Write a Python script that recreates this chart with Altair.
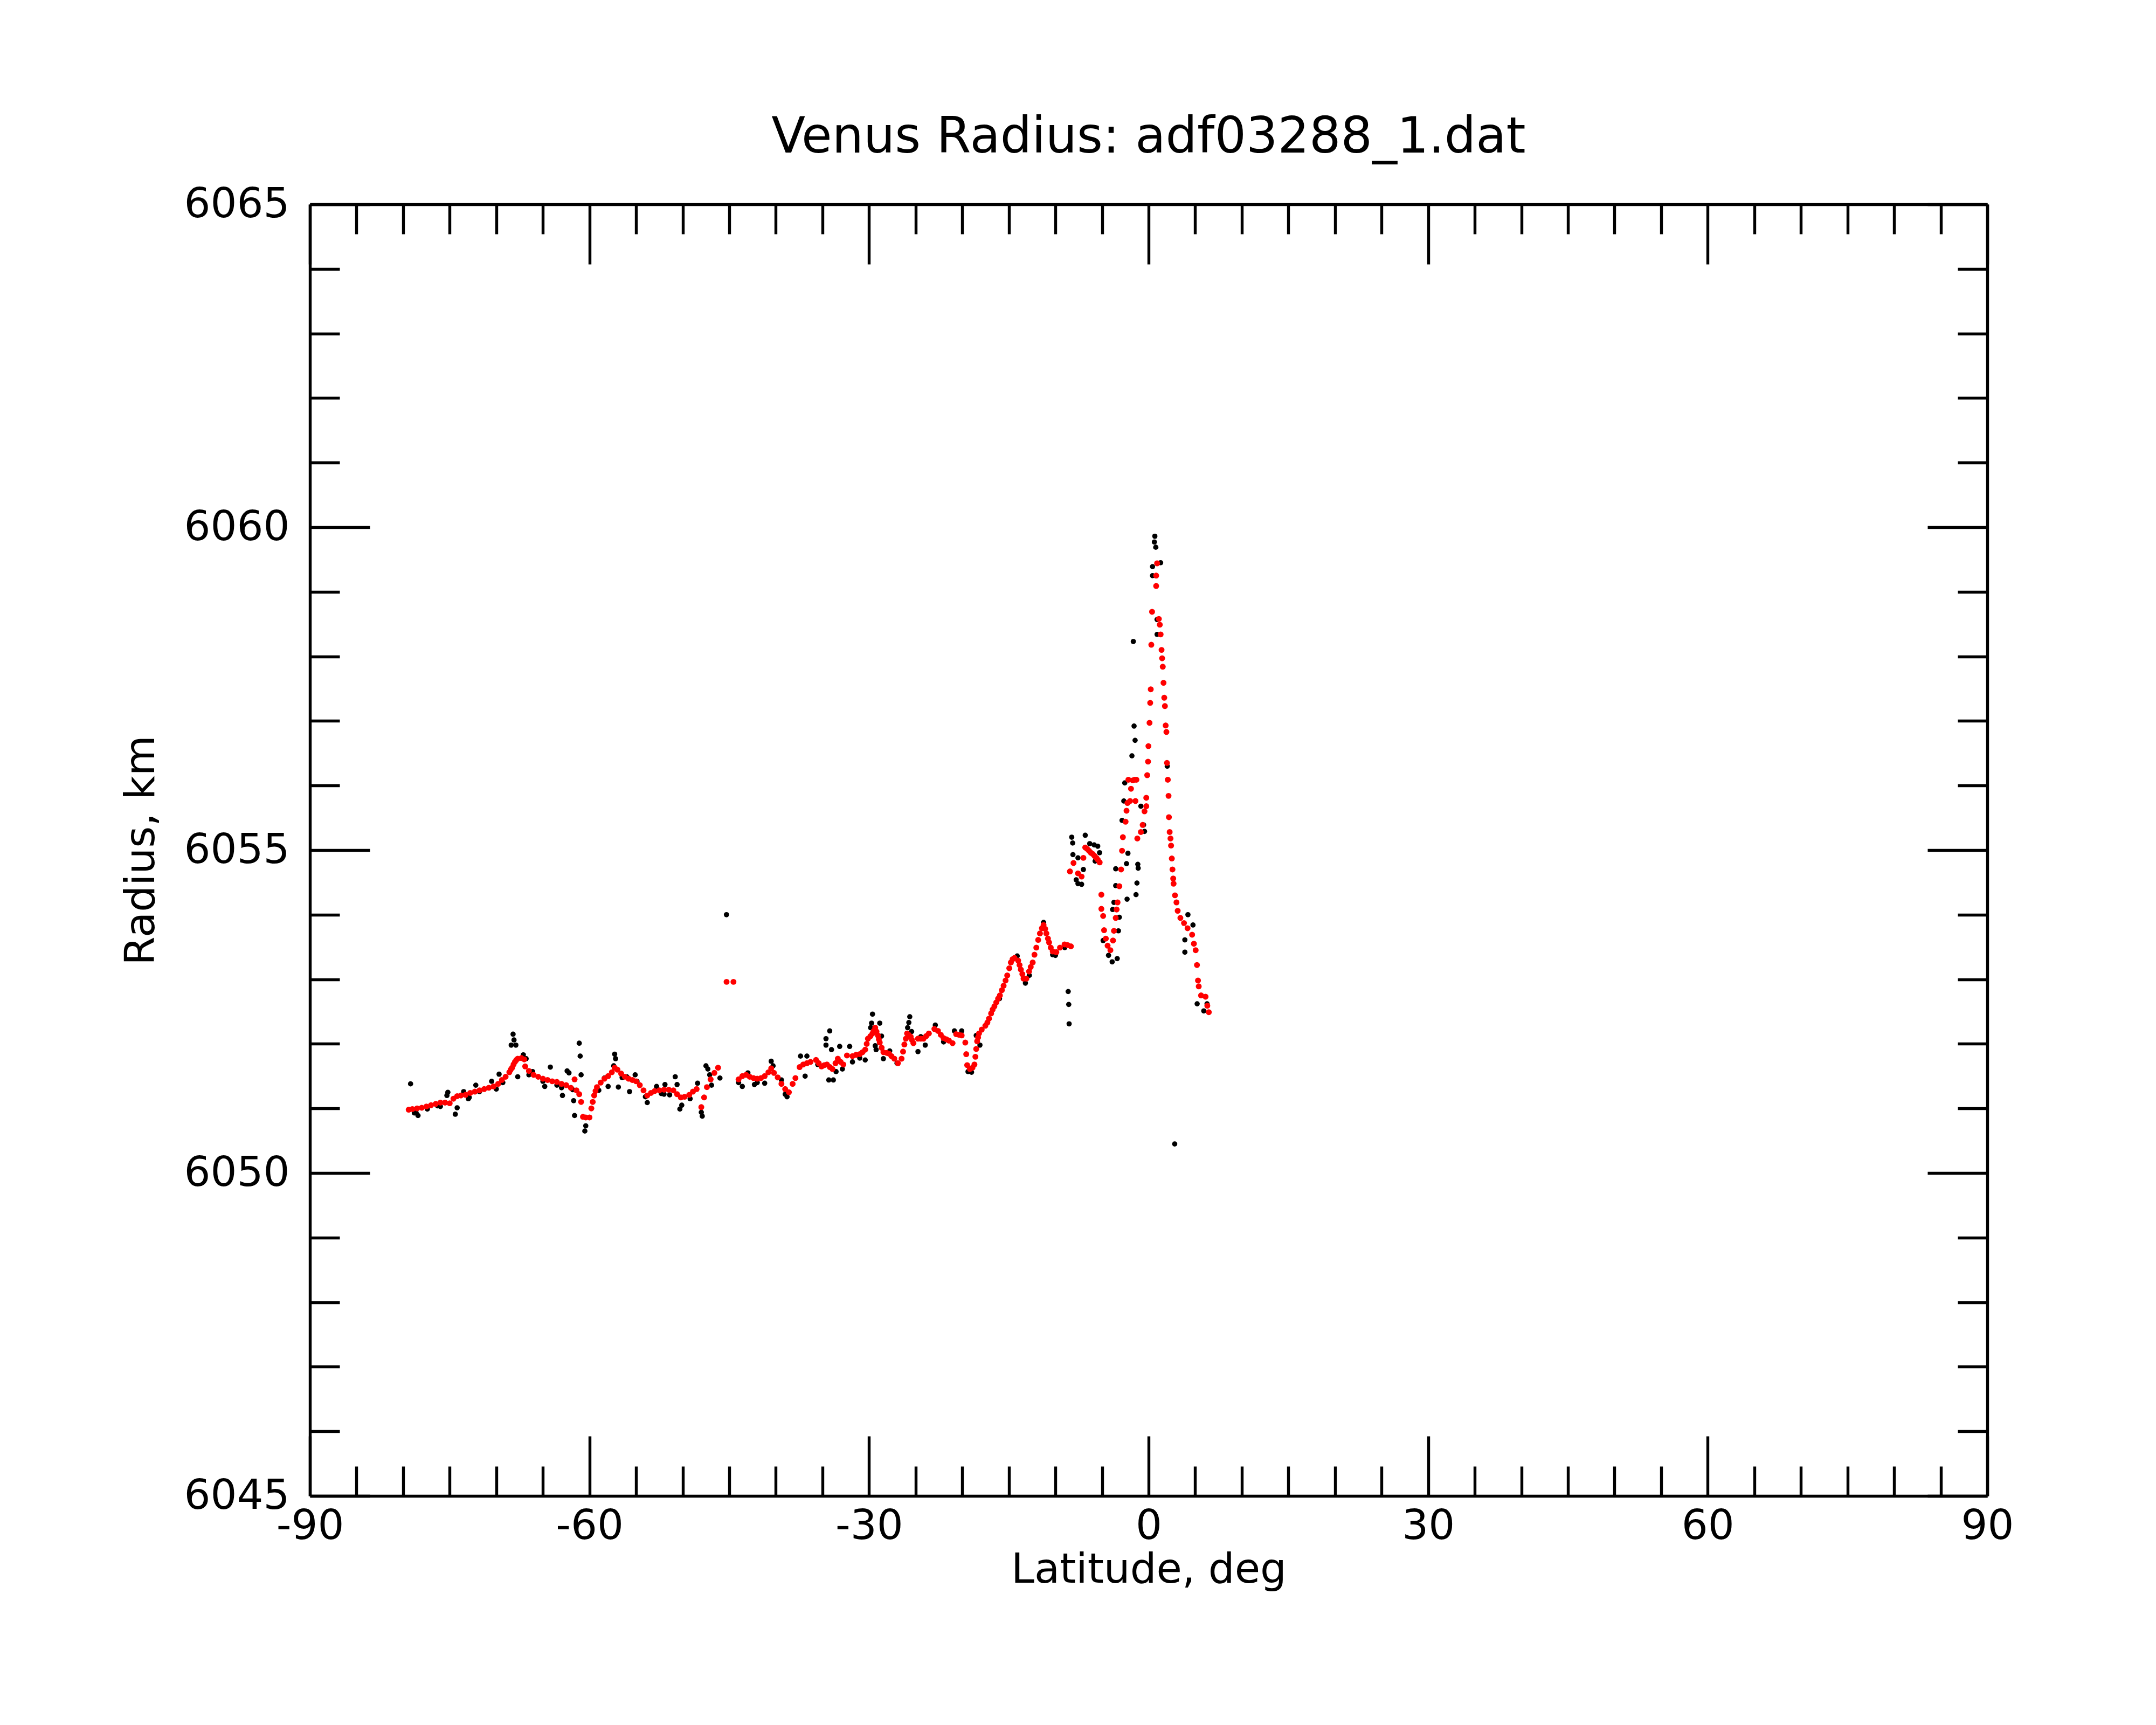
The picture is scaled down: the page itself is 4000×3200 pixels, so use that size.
import altair as alt
import pandas as pd

# ---------------- data ----------------
red_lat = [
    -79.4, -79.0, -78.5, -78.0, -77.5, -77.0, -76.5, -76.0, -75.5, -75.0,
    -74.6, -74.2, -73.8, -73.3, -72.8, -72.3, -71.8, -71.3, -70.8, -70.3,
    -69.8, -69.4, -69.0, -68.6, -68.45, -68.3, -68.15, -68.0, -67.85, -67.7,
    -67.3, -67.0, -66.9, -66.5, -66.0, -65.5, -65.0, -64.5, -64.0, -63.5,
    -63.0, -62.5, -62.0, -61.6, -61.4, -61.1, -60.9, -60.7, -60.4, -60.0,
    -59.8, -59.65, -59.5, -59.35, -59.2, -58.8, -58.4, -58.0, -57.6, -57.3,
    -57.0, -56.6, -56.2, -55.8, -55.4, -55.0, -54.6, -54.2, -53.8, -53.4,
    -53.0, -52.5, -52.0, -51.5, -51.0, -50.6, -50.2, -49.8, -49.3, -48.9,
    -48.5, -48.0, -47.7, -47.4, -47.0, -46.6, -46.2, -45.29, -44.55,
    -44.0, -43.6, -43.2, -42.8, -42.4, -42.0, -41.6, -41.2, -40.8, -40.5,
    -40.2, -39.8, -39.4, -39.0, -38.6, -38.2, -37.9, -37.45, -37.06, -36.67,
    -36.28, -35.69, -35.4, -35.1, -34.8, -34.52, -34.2, -33.93, -33.6, -33.35,
    -33.05, -32.76, -32.37, -31.78, -31.4, -31.0, -30.7, -30.41, -30.25, -30.12,
    -29.85, -29.63, -29.5, -29.34, -29.2, -29.05, -28.95, -28.85, -28.65, -28.46,
    -28.1, -27.87, -27.6, -27.29, -26.9, -26.51, -26.35, -26.21, -26.05, -25.92,
    -25.75, -25.53, -25.4, -25.24, -24.75, -24.45, -24.16, -23.87, -23.58, -22.99,
    -22.6, -22.3, -22.01, -21.7, -21.43, -21.04, -20.65, -20.35, -20.06, -19.67,
    -19.57, -19.47, -19.18, -18.9, -18.69, -18.59, -18.5, -18.4, -18.3, -18.2,
    -17.91, -17.52, -17.3, -17.13, -16.9, -16.74, -16.55, -16.35, -16.15, -15.96,
    -15.75, -15.56, -15.35, -15.17, -14.95, -14.78, -14.6, -14.39, -14.0, -13.85,
    -13.71, -13.55, -13.42, -13.12, -12.83, -12.65, -12.44, -12.25, -12.05, -11.85,
    -11.66, -11.45, -11.27, -11.1, -10.97, -10.8, -10.68, -10.5, -10.29, -9.9,
    -9.51, -9.02, -8.7, -8.34,
    -8.44, -8.06, -7.58, -7.19, -7.0, -6.8, -6.6, -6.4, -6.2, -6.0,
    -5.8, -5.6, -5.45, -5.25, -5.07, -5.07, -4.88, -4.78, -4.59, -4.4,
    -4.1, -3.82, -3.72, -3.53, -3.43, -3.33, -3.14, -2.95, -2.85, -2.76,
    -2.47, -2.37, -2.27, -2.17, -1.99, -1.89, -1.70, -1.5, -1.31, -1.41,
    -1.21, -0.83, -0.64, -0.44, -0.25, -0.25, -0.15, -0.06, -0.02, 0.10,
    0.17, 0.23, 0.29, 0.37, 0.81, 0.81, 0.91, 1.10, 1.20, 1.29,
    1.39, 1.45, 1.52, 1.60, 1.68, 1.75, 1.83, 1.91, 1.97, 2.06,
    2.14, 2.18, 2.26, 2.35, 2.41, 2.49, 2.56, 2.64, 2.68, 2.83,
    2.99, 3.12, 3.41, 3.80, 4.18, 4.67, 4.86, 5.05, 5.19, 5.30,
    5.38, 5.63, 6.11, 6.30, 6.46,
]
red_r = [
    6050.98, 6050.99, 6051.00, 6051.01, 6051.03, 6051.05, 6051.07, 6051.09, 6051.09, 6051.08,
    6051.15, 6051.19, 6051.20, 6051.21, 6051.24, 6051.26, 6051.28, 6051.30, 6051.32, 6051.34,
    6051.38, 6051.44, 6051.49, 6051.56, 6051.60, 6051.63, 6051.68, 6051.72, 6051.75, 6051.77,
    6051.78, 6051.76, 6051.65, 6051.58, 6051.52, 6051.49, 6051.46, 6051.44, 6051.42, 6051.41,
    6051.38, 6051.36, 6051.32, 6051.45, 6051.28, 6051.22, 6051.10, 6050.87, 6050.86, 6050.86,
    6051.00, 6051.10, 6051.20, 6051.27, 6051.33, 6051.40, 6051.46, 6051.50, 6051.56, 6051.63,
    6051.60, 6051.54, 6051.49, 6051.46, 6051.44, 6051.42, 6051.36, 6051.28, 6051.20, 6051.24,
    6051.27, 6051.28, 6051.29, 6051.29, 6051.28, 6051.22, 6051.17, 6051.18, 6051.21, 6051.26,
    6051.30, 6051.02, 6051.17, 6051.33, 6051.45, 6051.55, 6051.63, 6052.96, 6052.96,
    6051.45, 6051.50, 6051.52, 6051.49, 6051.47, 6051.46, 6051.47, 6051.50, 6051.56, 6051.62,
    6051.55, 6051.48, 6051.38, 6051.30, 6051.25, 6051.38, 6051.47, 6051.64, 6051.68, 6051.70,
    6051.72, 6051.75, 6051.70, 6051.65, 6051.67, 6051.68, 6051.64, 6051.61, 6051.70, 6051.77,
    6051.72, 6051.68, 6051.82, 6051.81, 6051.83, 6051.84, 6051.87, 6051.91, 6052.00, 6052.08,
    6052.12, 6052.16, 6052.20, 6052.25, 6052.19, 6052.13, 6052.07, 6052.02, 6051.94, 6051.87,
    6051.86, 6051.85, 6051.81, 6051.77, 6051.70, 6051.77, 6051.88, 6051.99, 6052.08, 6052.16,
    6052.14, 6052.11, 6052.06, 6052.01, 6052.08, 6052.08, 6052.08, 6052.12, 6052.16, 6052.23,
    6052.20, 6052.14, 6052.09, 6052.07, 6052.05, 6052.01, 6052.15, 6052.14, 6052.13, 6052.02,
    6051.84, 6051.67, 6051.61, 6051.63, 6051.68, 6051.80, 6051.92, 6052.04, 6052.10, 6052.16,
    6052.22, 6052.28, 6052.33, 6052.39, 6052.47, 6052.53, 6052.58, 6052.64, 6052.70, 6052.75,
    6052.83, 6052.90, 6052.98, 6053.06, 6053.17, 6053.26, 6053.31, 6053.33, 6053.29, 6053.22,
    6053.15, 6053.08, 6053.01, 6053.01, 6053.12, 6053.19, 6053.26, 6053.38, 6053.49, 6053.61,
    6053.71, 6053.79, 6053.84, 6053.78, 6053.71, 6053.63, 6053.57, 6053.49, 6053.43, 6053.42,
    6053.49, 6053.54, 6053.53, 6053.51,
    6054.67, 6054.80, 6054.64, 6054.59, 6054.88, 6055.04, 6055.02, 6054.99, 6054.96, 6054.94,
    6054.91, 6054.88, 6054.85, 6054.81, 6054.31, 6054.09, 6053.98, 6053.76, 6053.63, 6053.52,
    6053.45, 6053.60, 6053.75, 6053.95, 6054.08, 6054.19, 6054.44, 6054.70, 6054.99, 6055.20,
    6055.44, 6055.61, 6055.73, 6056.09, 6055.76, 6055.95, 6056.08, 6056.09, 6056.09, 6055.76,
    6055.18, 6055.28, 6055.39, 6055.60, 6055.68, 6055.81, 6056.16, 6056.37, 6056.61, 6056.97,
    6057.28, 6057.49, 6058.18, 6058.69, 6059.09, 6059.25, 6059.44, 6058.58, 6058.49, 6058.34,
    6058.10, 6057.97, 6057.84, 6057.59, 6057.36, 6057.23, 6056.93, 6056.83, 6056.35, 6056.09,
    6055.84, 6055.51, 6055.28, 6055.18, 6055.07, 6054.87, 6054.70, 6054.56, 6054.48, 6054.30,
    6054.19, 6054.06, 6053.95, 6053.87, 6053.79, 6053.69, 6053.55, 6053.45, 6053.22, 6052.98,
    6052.89, 6052.75, 6052.73, 6052.59, 6052.49,
]

black_lat = [
    -79.2, -78.8, -78.6, -78.4, -77.4, -76.3, -76.0, -75.3, -75.2, -74.2,
    -74.4, -73.5, -73.0, -72.9, -72.2, -71.8, -70.5, -70.0, -69.7, -69.3,
    -68.2, -68.1, -68.4, -67.9, -67.7, -67.1, -66.8, -66.5, -66.1, -65.0,
    -64.8, -64.2, -63.5, -63.0, -62.9, -62.4, -62.2, -61.8, -61.7, -61.6,
    -61.1, -61.0, -60.9, -60.4, -60.5, -59.0, -58.4, -58.0, -57.3, -57.2,
    -57.4, -56.9, -56.5, -56.0, -55.7, -55.1, -54.9, -54.0, -53.8, -52.8,
    -52.3, -52.0, -51.9, -51.4, -50.8, -50.6, -50.3, -50.1, -49.2, -48.4,
    -48.0, -47.9, -47.5, -47.3, -47.1, -46.9, -46.0, -45.3, -44.0, -43.6,
    -43.0, -42.3, -42.0, -41.2, -40.5, -40.3, -39.4, -39.0, -38.8,
    -37.35, -36.67, -36.86, -35.5, -34.22, -34.62, -34.62, -34.32, -33.83, -33.54,
    -33.15, -34.03, -32.86, -32.08, -31.78, -31.0, -30.41, -29.63, -29.73, -28.85,
    -29.83, -28.66, -29.34, -29.24, -27.78, -28.46, -27.0, -25.63, -25.73, -25.86,
    -25.43, -24.75, -23.97, -22.89, -24.45, -22.0, -20.84, -20.06, -19.0, -18.1,
    -18.5, -19.38, -16.0, -14.1, -13.22, -12.8, -11.27, -10.3, -10.0, -9.0,
    -8.63, -8.57, -8.53,
    0.67, 0.62, 0.77, 1.29, 0.42, 0.42, 0.91, 0.91, -1.64, -1.56,
    -1.45, -1.79, -2.56, -2.66, -2.85, -0.83, -0.54, -0.44, -2.22, -2.37,
    -1.16, -1.12, -3.53, -1.25, -3.53, -2.31, -1.35, -3.72, -3.86, -3.14,
    -3.24, -4.88, -4.3, -3.91, -3.37, -8.25, -8.15, -8.12, -7.58, -7.77,
    -7.58, -7.19, -6.8, -6.32, -5.84, -5.46, -5.26, -5.74, -7.0, 2.0,
    4.22, 4.76, 3.89, 3.89, 5.21, 5.92, 6.27, 2.8,
]
black_r = [
    6051.38, 6050.93, 6050.93, 6050.89, 6050.99, 6051.04, 6051.03, 6051.20, 6051.25, 6051.01,
    6050.91, 6051.26, 6051.15, 6051.17, 6051.36, 6051.26, 6051.42, 6051.30, 6051.53, 6051.40,
    6052.15, 6052.06, 6051.98, 6051.98, 6051.49, 6051.83, 6051.77, 6051.52, 6051.57, 6051.42,
    6051.34, 6051.64, 6051.36, 6051.32, 6051.20, 6051.58, 6051.55, 6051.29, 6051.12, 6050.89,
    6052.01, 6051.81, 6051.52, 6050.73, 6050.65, 6051.28, 6051.47, 6051.34, 6051.84, 6051.77,
    6051.66, 6051.33, 6051.48, 6051.49, 6051.26, 6051.52, 6051.42, 6051.18, 6051.09, 6051.34,
    6051.23, 6051.22, 6051.37, 6051.21, 6051.49, 6051.37, 6050.99, 6051.05, 6051.15, 6051.39,
    6050.94, 6050.88, 6051.66, 6051.61, 6051.52, 6051.36, 6051.47, 6054.00, 6051.40, 6051.34,
    6051.55, 6051.37, 6051.40, 6051.39, 6051.73, 6051.66, 6051.44, 6051.22, 6051.18,
    6051.81, 6051.81, 6051.50, 6051.68, 6052.20, 6052.08, 6051.98, 6051.44, 6051.44, 6051.57,
    6051.96, 6051.91, 6051.61, 6051.96, 6051.72, 6051.78, 6051.75, 6052.46, 6052.32, 6052.32,
    6052.25, 6052.12, 6051.97, 6051.91, 6051.89, 6051.77, 6051.70, 6052.42, 6052.33, 6052.25,
    6052.19, 6051.88, 6051.98, 6052.29, 6052.11, 6052.03, 6052.20, 6052.20, 6051.56, 6051.98,
    6052.13, 6051.57, 6052.70, 6053.36, 6052.94, 6053.06, 6053.88, 6053.38, 6053.37, 6053.49,
    6052.81, 6052.61, 6052.31,
    6059.86, 6059.77, 6059.69, 6059.45, 6059.39, 6059.25, 6058.57, 6058.34, 6058.23, 6056.92,
    6056.70, 6056.46, 6056.04, 6055.76, 6055.46, 6055.68, 6055.39, 6055.29, 6054.95, 6054.79,
    6054.78, 6054.72, 6054.71, 6054.49, 6054.45, 6054.24, 6054.31, 6054.19, 6054.08, 6053.96,
    6053.75, 6053.60, 6053.37, 6053.27, 6053.32, 6055.20, 6055.11, 6054.93, 6054.88, 6054.54,
    6054.48, 6054.47, 6055.23, 6055.10, 6055.08, 6055.06, 6054.96, 6054.83, 6054.70, 6056.30,
    6054.00, 6053.84, 6053.61, 6053.42, 6052.62, 6052.51, 6052.62, 6050.45,
]

x_major = [-90, -60, -30, 0, 30, 60, 90]
x_all = list(range(-90, 91, 5))
y_major = [6045, 6050, 6055, 6060, 6065]
y_all = list(range(6045, 6066))

# ---------------- layout ----------------
W, H = 3112, 2396
FS = 77
LW = 5.4
FONT = "DejaVu Sans"

black = pd.DataFrame({"lat": black_lat, "r": black_r})
red = pd.DataFrame({"lat": red_lat, "r": red_r})

xscale = alt.Scale(domain=[-90, 90], nice=False, zero=False)
yscale = alt.Scale(domain=[6045, 6065], nice=False, zero=False)

x_tsize = {"condition": {"test": "datum.value % 30 === 0", "value": 111}, "value": 55}
y_tsize = {"condition": {"test": "datum.value % 5 === 0", "value": 111}, "value": 55}


def tick_axis(orient, values, tsize, offset):
    return alt.Axis(
        orient=orient, values=values, offset=offset, labels=False, title=None,
        domain=True, domainColor="black", domainWidth=LW, grid=False,
        ticks=True, tickSize=tsize, tickColor="black", tickWidth=LW,
    )


label_x_axis = alt.Axis(
    orient="bottom", values=x_major, ticks=False, tickSize=0, domain=False,
    grid=False, labelFontSize=FS, labelFont=FONT, labelColor="black",
    labelPadding=18, labelFlush=False, labelLimit=1000, labelExpr="'' + datum.value",
    title="Latitude, deg", titleFontSize=FS, titleFont=FONT,
    titleFontWeight="normal", titleColor="black", titlePadding=5,
)
label_y_axis = alt.Axis(
    orient="left", values=y_major, ticks=False, tickSize=0, domain=False,
    grid=False, labelFontSize=FS, labelFont=FONT, labelColor="black",
    labelPadding=38, labelFlush=False, labelLimit=1000, labelExpr="'' + datum.value",
    title="Radius, km", titleFontSize=FS, titleFont=FONT,
    titleFontWeight="normal", titleColor="black", titlePadding=74,
)

black_layer = alt.Chart(black).mark_circle(color="black", size=95, opacity=1).encode(
    x=alt.X("lat:Q", scale=xscale, axis=label_x_axis),
    y=alt.Y("r:Q", scale=yscale, axis=label_y_axis),
)

red_layer = alt.Chart(red).mark_circle(color="#ff0000", size=120, opacity=1).encode(
    x=alt.X("lat:Q", scale=xscale, axis=tick_axis("top", x_all, x_tsize, -H)),
    y=alt.Y("r:Q", scale=yscale, axis=tick_axis("right", y_all, y_tsize, -W)),
)

frame_layer = alt.Chart(red).mark_circle(opacity=0, size=1).encode(
    x=alt.X("lat:Q", scale=xscale, axis=tick_axis("bottom", x_all, x_tsize, -H)),
    y=alt.Y("r:Q", scale=yscale, axis=tick_axis("left", y_all, y_tsize, -W)),
)

chart = (
    alt.layer(frame_layer, black_layer, red_layer)
    .resolve_scale(x="shared", y="shared")
    .resolve_axis(x="independent", y="independent")
    .properties(
        width=W,
        height=H,
        title=alt.TitleParams(
            "Venus Radius: adf03288_1.dat", fontSize=92, font=FONT,
            fontWeight="normal", color="black", offset=38, anchor="middle",
        ),
        autosize=alt.AutoSizeParams(type="none"),
        padding={"left": 567, "top": 371, "right": 300, "bottom": 400},
    )
    .configure(background="white", font=FONT)
    .configure_view(stroke=None)
)

chart.save("out.html", embed_options={"renderer": "svg", "actions": False})
